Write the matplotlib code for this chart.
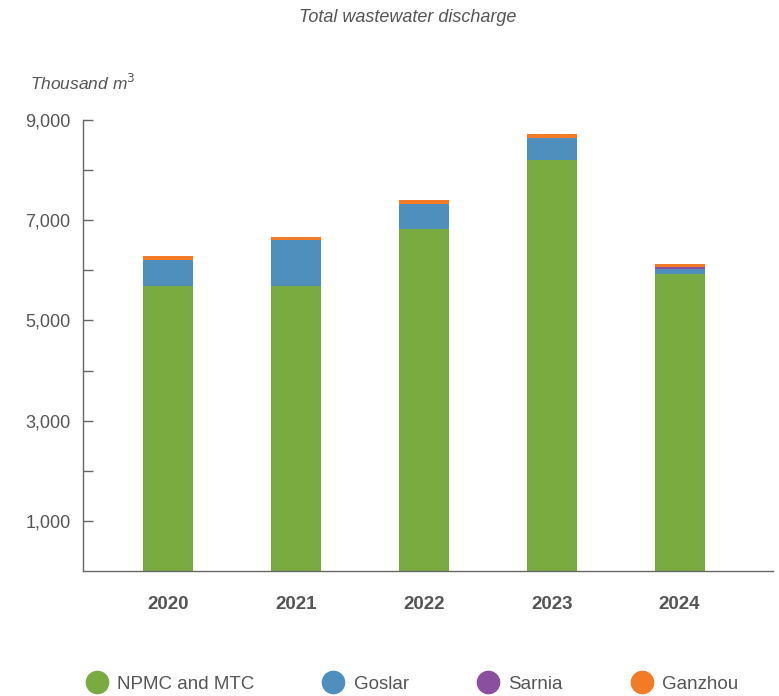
import numpy as np
import matplotlib.pyplot as plt
from matplotlib.lines import Line2D

plt.rcParams['font.family'] = ['Liberation Sans', 'DejaVu Sans']

# data (thousand m3)
years = ['2020', '2021', '2022', '2023', '2024']
npmc_mtc = [5680, 5680, 6820, 8200, 5930]
goslar = [520, 920, 510, 450, 90]
sarnia = [0, 0, 0, 0, 40]
ganzhou = [80, 60, 70, 70, 60]

series_names = ['NPMC and MTC', 'Goslar', 'Sarnia', 'Ganzhou']
series_colors = ['#7aab41', '#4f8fbd', '#8a4f9e', '#f47b26']
series_values = [npmc_mtc, goslar, sarnia, ganzhou]

text_color = '#555555'
axis_color = '#666666'

fig = plt.figure(figsize=(7.79, 6.96), dpi=100)
ax = fig.add_axes([83 / 779, 1 - 571 / 696, 690 / 779, 451 / 696])

x = np.arange(len(years))
bottom = np.zeros(len(years))
for name, color, vals in zip(series_names, series_colors, series_values):
    ax.bar(x, vals, width=0.39, bottom=bottom, color=color, label=name)
    bottom += np.array(vals)

ax.set_xlim(-0.664, 4.73)
ax.set_ylim(0, 9000)

ax.set_yticks(np.arange(1000, 9001, 1000))
ax.set_yticklabels([f'{v:,}' if v % 2000 == 1000 else '' for v in range(1000, 9001, 1000)])
ax.tick_params(axis='y', direction='in', length=7, width=1, color=axis_color,
               labelsize=13, labelcolor=text_color, pad=9)

ax.set_xticks(x)
ax.set_xticklabels(years, fontweight='bold')
ax.tick_params(axis='x', length=0, labelsize=13.5, labelcolor=text_color, pad=18)

for side in ['top', 'right']:
    ax.spines[side].set_visible(False)
for side in ['left', 'bottom']:
    ax.spines[side].set_color(axis_color)
    ax.spines[side].set_linewidth(1)

fig.text(408 / 779, 1 - 18 / 696, 'Total wastewater discharge', ha='center', va='center',
         fontsize=13, fontstyle='italic', color=text_color)
fig.text(30 / 779, 1 - 83 / 696, 'Thousand m$^3$', ha='left', va='center',
         fontsize=12.5, fontstyle='italic', color=text_color)

handles = [Line2D([0], [0], marker='o', linestyle='', markersize=16,
                  markerfacecolor=c, markeredgecolor=c) for c in series_colors]
fig.legend(handles, series_names, loc='center', bbox_to_anchor=(412 / 779, 1 - 684 / 696),
           ncol=4, frameon=False, fontsize=13.5, labelcolor=text_color,
           handletextpad=0.5, columnspacing=3.6, handlelength=1.2)

fig.savefig('out.png', dpi=100)
